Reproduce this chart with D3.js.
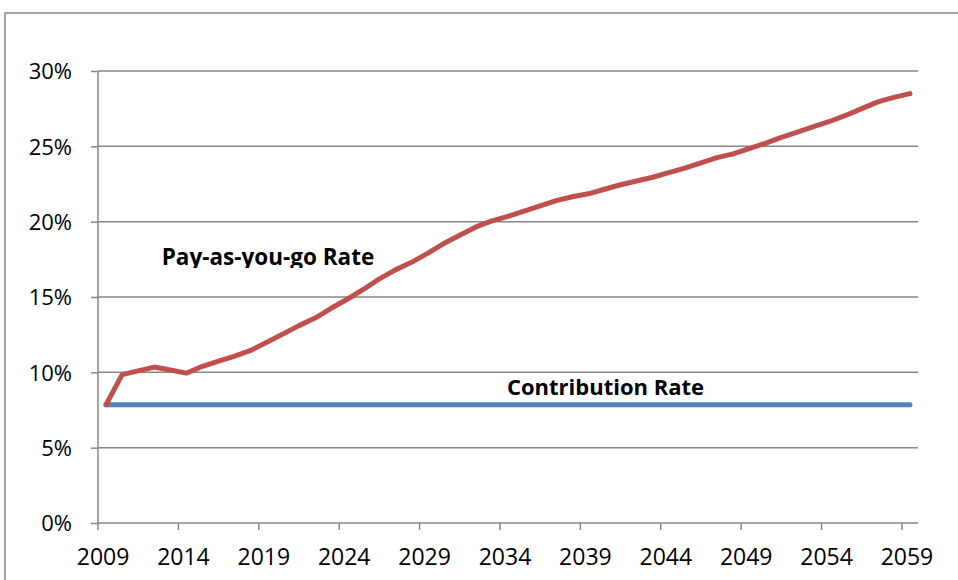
<!DOCTYPE html>
<html>
<head>
<meta charset="utf-8">
<script src="https://cdn.jsdelivr.net/npm/d3@7"></script>
<style>
  html, body { margin: 0; padding: 0; background: #fff; }
  svg { display: block; }
</style>
</head>
<body>
<svg id="chart" width="958" height="580"></svg>
<script>
const years = d3.range(2009, 2060);
const payGoRate = [
  7.85, 9.85, 10.1, 10.35, 10.15, 9.95, 10.4, 10.75, 11.08, 11.45,
  12.0, 12.55, 13.1, 13.6, 14.25, 14.85, 15.5, 16.2, 16.8, 17.3,
  17.9, 18.55, 19.1, 19.65, 20.05, 20.35, 20.7, 21.05, 21.4, 21.65,
  21.85, 22.15, 22.45, 22.7, 22.95, 23.25, 23.55, 23.9, 24.25, 24.5,
  24.85, 25.2, 25.6, 25.95, 26.3, 26.65, 27.05, 27.5, 27.95, 28.25,
  28.5
];
const contributionRate = years.map(() => 7.85);
const yTicks = [0, 5, 10, 15, 20, 25, 30];
const xTickYears = [2009, 2014, 2019, 2024, 2029, 2034, 2039, 2044, 2049, 2054, 2059];
const seriesLabels = ["Pay-as-you-go Rate", "Contribution Rate"];

const svg = d3.select("#chart");
const gray = "#868686";
const font = "'Open Sans', sans-serif";

// outer chart border
svg.append("rect")
  .attr("x", 5).attr("y", 13).attr("width", 1000).attr("height", 700)
  .attr("fill", "none").attr("stroke", gray).attr("stroke-width", 1.5);

const x = d3.scaleBand().domain(years).range([98, 918]).padding(0);
const y = d3.scaleLinear().domain([0, 30]).range([523, 71]);
const xc = d => x(d) + x.bandwidth() / 2;

// gridlines
svg.append("g").selectAll("line").data(yTicks.filter(t => t > 0)).join("line")
  .attr("x1", 98).attr("x2", 918)
  .attr("y1", d => y(d)).attr("y2", d => y(d))
  .attr("stroke", gray).attr("stroke-width", 1.5);

// y axis
const yAxis = d3.axisLeft(y).tickValues(yTicks).tickSize(7).tickPadding(19)
  .tickFormat(d => d + "%");
const gy = svg.append("g").attr("transform", "translate(98,0)").call(yAxis);
gy.select(".domain").attr("stroke", gray).attr("stroke-width", 1.5).attr("d", `M0,${y(30)}V${y(0)}`);
gy.selectAll(".tick line").attr("stroke", gray).attr("stroke-width", 1.5);
gy.selectAll(".tick text").attr("font-family", font).attr("font-size", 22).attr("fill", "#000")
  .attr("dy", "0.36em");

// x axis
const xAxis = d3.axisBottom(x).tickValues(xTickYears).tickSize(0).tickPadding(20);
const gx = svg.append("g").attr("transform", `translate(0,${y(0)})`).call(xAxis);
gx.select(".domain").attr("stroke", gray).attr("stroke-width", 1.5).attr("d", `M98,0H918`);
gx.selectAll(".tick text").attr("font-family", font).attr("font-size", 23).attr("fill", "#000")
  .attr("dx", -3).attr("dy", "0.95em");
// tick marks at category boundaries
gx.selectAll(".tickmark").data(xTickYears).join("line")
  .attr("x1", d => x(d)).attr("x2", d => x(d))
  .attr("y1", 0).attr("y2", 7)
  .attr("stroke", gray).attr("stroke-width", 1.5);

// lines
const line = d3.line().x((d, i) => xc(years[i])).y(d => y(d));
svg.append("path").datum(contributionRate)
  .attr("d", line).attr("fill", "none")
  .attr("stroke", "#4F81BD").attr("stroke-width", 5).attr("stroke-linecap", "round").attr("stroke-linejoin", "round");
svg.append("path").datum(payGoRate)
  .attr("d", line).attr("fill", "none")
  .attr("stroke", "#C0504D").attr("stroke-width", 5).attr("stroke-linecap", "round").attr("stroke-linejoin", "round");

// labels
svg.append("clipPath").attr("id", "clipLbl")
  .append("rect").attr("x", 0).attr("y", 0).attr("width", 958).attr("height", 268);
svg.append("text")
  .attr("clip-path", "url(#clipLbl)")
  .attr("x", 268).attr("y", 265).attr("text-anchor", "middle")
  .attr("font-family", font).attr("font-weight", "bold").attr("font-size", 22.5)
  .attr("fill", "#000").text(seriesLabels[0]);
svg.append("text")
  .attr("x", 605.5).attr("y", 395).attr("text-anchor", "middle")
  .attr("font-family", font).attr("font-weight", "bold").attr("font-size", 22)
  .attr("fill", "#000").text(seriesLabels[1]);
</script>
</body>
</html>
